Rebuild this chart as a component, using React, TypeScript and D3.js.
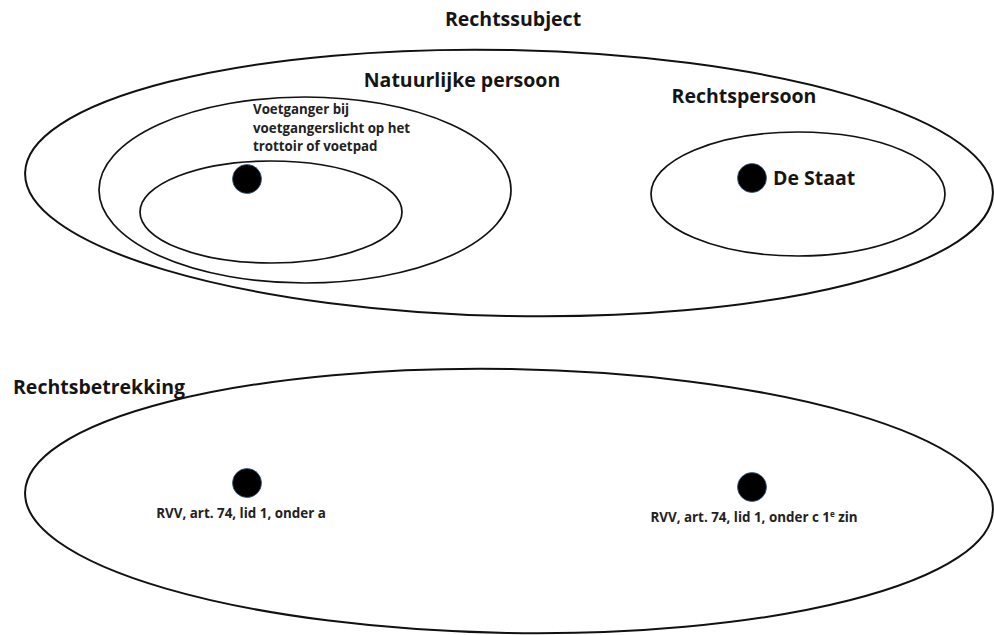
import React, { useEffect, useRef } from 'react';
import * as d3 from 'd3';

// Sets (ellipses) in the diagram, coordinates in picture units (994 x 635)
const setNames = ['Rechtssubject', 'Natuurlijke persoon', 'Voetganger', 'Rechtspersoon', 'Rechtsbetrekking'];
const setCx = [509, 305, 271, 798, 509];
const setCy = [183, 190, 212, 194, 501];
const setRx = [484, 206, 131, 147, 484];
const setRy = [133, 93, 51, 62, 132];
const setTilt = [1.2, 0, 0, 0, 1.0];

// Members (dots)
const memberNames = ['Voetganger', 'De Staat', 'RVV a', 'RVV c'];
const memberX = [247, 752, 247, 752];
const memberY = [179, 178, 483, 487];

// Title labels
const titleTexts = ['Rechtssubject', 'Natuurlijke persoon', 'Rechtspersoon', 'Rechtsbetrekking', 'De Staat'];
const titleX = [513, 462, 744, 13, 773];
const titleY = [19, 80, 96, 387, 178];
const titleAnchor = ['middle', 'middle', 'middle', 'start', 'start'];

// Small labels
const voetLines = ['Voetganger bij', 'voetgangerslicht op het', 'trottoir of voetpad'];
const rvvTexts = ['RVV, art. 74, lid 1, onder a', 'RVV, art. 74, lid 1, onder c 1'];
const rvvX = [241, 754];
const rvvY = [513, 517];

const FONT = '"Open Sans", Lato, sans-serif';

export default function App() {
  const svgRef = useRef<SVGSVGElement>(null);
  const width = 994;
  const height = 635;

  useEffect(() => {
    if (!svgRef.current) return;
    const svg = d3.select(svgRef.current);
    svg.selectAll('*').remove();

    const x = d3.scaleLinear().domain([0, 994]).range([0, width]);
    const y = d3.scaleLinear().domain([0, 635]).range([0, height]);

    svg.append('rect').attr('width', width).attr('height', height).attr('fill', '#fff');

    // Ellipses
    svg.selectAll('.set')
      .data(setNames)
      .enter()
      .append('ellipse')
      .attr('class', 'set')
      .attr('cx', (_, i) => x(setCx[i]))
      .attr('cy', (_, i) => y(setCy[i]))
      .attr('rx', (_, i) => x(setRx[i]) - x(0))
      .attr('ry', (_, i) => y(setRy[i]) - y(0))
      .attr('transform', (_, i) => `rotate(${setTilt[i]}, ${x(setCx[i])}, ${y(setCy[i])})`)
      .style('fill', 'none')
      .style('stroke', '#111')
      .style('stroke-width', (_, i) => (i === 0 || i === 4 ? 2 : 1.7));

    // Dots
    svg.selectAll('.member')
      .data(memberNames)
      .enter()
      .append('circle')
      .attr('class', 'member')
      .attr('cx', (_, i) => x(memberX[i]))
      .attr('cy', (_, i) => y(memberY[i]))
      .attr('r', 14.5)
      .style('fill', '#000')
      .style('stroke', '#3b5b8f')
      .style('stroke-width', 0.8);

    // Titles
    svg.selectAll('.title')
      .data(titleTexts)
      .enter()
      .append('text')
      .attr('class', 'title')
      .attr('x', (_, i) => x(titleX[i]))
      .attr('y', (_, i) => y(titleY[i]))
      .attr('dy', '0.36em')
      .attr('text-anchor', (_, i) => titleAnchor[i])
      .style('font-family', FONT)
      .style('font-weight', 700)
      .style('font-size', '19.5px')
      .style('fill', '#151515')
      .text(d => d);

    // Voetganger label (three lines)
    svg.append('text')
      .attr('x', x(253))
      .attr('y', y(114))
      .attr('dy', '0.36em')
      .style('font-family', FONT)
      .style('font-weight', 700)
      .style('font-size', '13.3px')
      .style('fill', '#222')
      .selectAll('tspan')
      .data(voetLines)
      .enter()
      .append('tspan')
      .attr('x', x(253))
      .attr('dy', (_, i) => (i === 0 ? 0 : 18.5))
      .text(d => d);

    // RVV labels
    const rvv = svg.selectAll('.rvv')
      .data(rvvTexts)
      .enter()
      .append('text')
      .attr('class', 'rvv')
      .attr('x', (_, i) => x(rvvX[i]))
      .attr('y', (_, i) => y(rvvY[i]))
      .attr('dy', '0.36em')
      .attr('text-anchor', 'middle')
      .style('font-family', FONT)
      .style('font-weight', 700)
      .style('font-size', '13.4px')
      .style('fill', '#222');
    rvv.append('tspan').text(d => d);
    const second = rvv.filter((_, i) => i === 1);
    second.append('tspan').attr('dy', '-5').style('font-size', '8px').text('e');
    second.append('tspan').attr('dy', '5').text(' zin');
  }, []);

  return (
    <svg
      ref={svgRef}
      width={width}
      height={height}
      style={{ position: 'absolute', left: 0, top: 0, display: 'block' }}
    />
  );
}
